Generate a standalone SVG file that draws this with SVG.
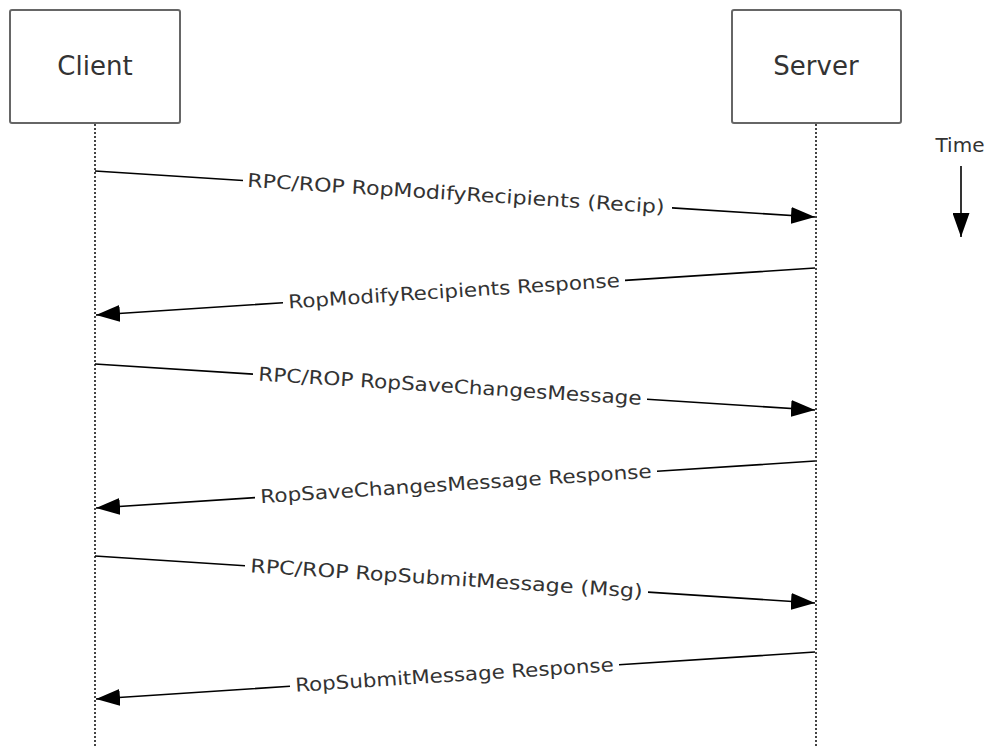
<svg xmlns="http://www.w3.org/2000/svg" width="989" height="746" viewBox="0 0 989 746">
<style>
.box{fill:#fff;stroke:#666;stroke-width:2}
.life{stroke:#444;stroke-width:2;stroke-dasharray:2,2;fill:none}
.msg{stroke:#000;stroke-width:1.6;fill:none}
.name{font-family:"DejaVu Sans","Verdana",sans-serif;font-size:26px;fill:#333;text-anchor:middle}
.lbl{font-family:"DejaVu Sans","Verdana",sans-serif;font-size:19px;fill:#333;text-anchor:middle}
</style>
<defs>
<marker id="ah" markerUnits="userSpaceOnUse" markerWidth="24" markerHeight="17" refX="24" refY="8.5" orient="auto">
<path d="M0,0 L24,8.5 L0,17 z" fill="#000"/>
</marker>
</defs>
<rect width="989" height="746" fill="#fff"/>
<g id="client">
<rect class="box" x="10" y="10" width="170" height="113" rx="2"/>
<text class="name" x="95" y="75">Client</text>
<line class="life" x1="95" y1="124" x2="95" y2="746"/>
</g>
<g id="server">
<rect class="box" x="732" y="10" width="169" height="113" rx="2"/>
<text class="name" x="816" y="75">Server</text>
<line class="life" x1="816" y1="124" x2="816" y2="746"/>
</g>
<g id="time">
<text class="name" style="font-size:20px" x="960" y="152">Time</text>
<line class="msg" x1="961" y1="166" x2="961" y2="237" marker-end="url(#ah)"/>
</g>
<g id="connectors">
<path class="msg" d="M95,171 L243,180.5 M672,207.9 L815,217" marker-end="url(#ah)"/>
<text class="lbl" transform="translate(456,194.1) rotate(3.655)" x="0" y="6" textLength="418" lengthAdjust="spacingAndGlyphs">RPC/ROP RopModifyRecipients (Recip)</text>

<path class="msg" d="M815,268 L625,280.4 M283,302.7 L96,315" marker-end="url(#ah)"/>
<text class="lbl" transform="translate(454,291.6) rotate(-3.73)" x="0" y="6" textLength="332" lengthAdjust="spacingAndGlyphs">RopModifyRecipients Response</text>

<path class="msg" d="M95,364 L253,374.1 M647,399.3 L815,410" marker-end="url(#ah)"/>
<text class="lbl" transform="translate(450,386.7) rotate(3.655)" x="0" y="6" textLength="384" lengthAdjust="spacingAndGlyphs">RPC/ROP RopSaveChangesMessage</text>

<path class="msg" d="M815,461 L657,471.3 M255,497.6 L96,508" marker-end="url(#ah)"/>
<text class="lbl" transform="translate(456,484.4) rotate(-3.73)" x="0" y="6" textLength="392" lengthAdjust="spacingAndGlyphs">RopSaveChangesMessage Response</text>

<path class="msg" d="M95,556 L245,565.8 M648,592.1 L815,603" marker-end="url(#ah)"/>
<text class="lbl" transform="translate(446.5,579) rotate(3.73)" x="0" y="6" textLength="393" lengthAdjust="spacingAndGlyphs">RPC/ROP RopSubmitMessage (Msg)</text>

<path class="msg" d="M815,652 L619,664.8 M290,686.3 L96,699" marker-end="url(#ah)"/>
<text class="lbl" transform="translate(454.5,675.5) rotate(-3.73)" x="0" y="6" textLength="319" lengthAdjust="spacingAndGlyphs">RopSubmitMessage Response</text>
</g>
</svg>
